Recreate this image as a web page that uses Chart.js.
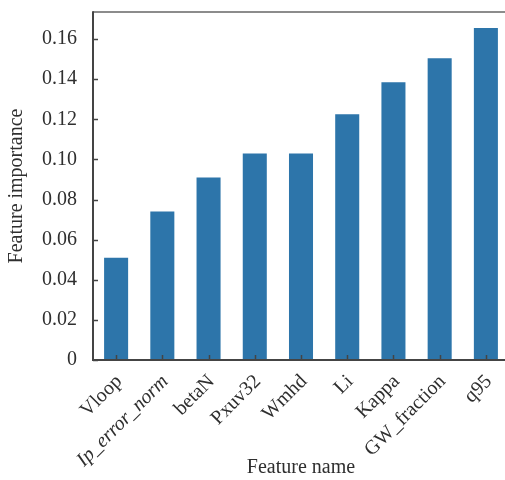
<!DOCTYPE html>
<html>
<head>
<meta charset="utf-8">
<script src="https://cdn.jsdelivr.net/npm/chart.js@4/dist/chart.umd.min.js"></script>
<style>
  html, body { margin: 0; padding: 0; background: #fff; overflow: hidden; }
  #wrap { position: relative; width: 512px; height: 480px; }
</style>
</head>
<body>
<div id="wrap"><canvas id="c"></canvas></div>
<script>
// Feature names (x categories) and their importance scores
const features = ['Vloop', 'Ip_error_norm', 'betaN', 'Pxuv32', 'Wmhd', 'Li', 'Kappa', 'GW_fraction', 'q95'];
const importance = [0.051, 0.074, 0.091, 0.103, 0.103, 0.1225, 0.1385, 0.1505, 0.1655];
const yTicks = [0, 0.02, 0.04, 0.06, 0.08, 0.10, 0.12, 0.14, 0.16];
const italicLabels = ['Ip_error_norm'];

const FONT = 'Liberation Serif, Times New Roman, serif';
const TEXT = '#2f2f2f';
const AXIS = '#444444';

// Axis frame with inward tick marks
const frame = {
  id: 'frame',
  afterDatasetsDraw(chart) {
    const { ctx, chartArea: a, scales } = chart;
    ctx.save();
    ctx.lineCap = 'butt';
    // top border
    ctx.strokeStyle = '#666666';
    ctx.lineWidth = 1.5;
    ctx.beginPath();
    ctx.moveTo(a.left, a.top);
    ctx.lineTo(a.right, a.top);
    ctx.stroke();
    // left and bottom axes
    ctx.strokeStyle = AXIS;
    ctx.lineWidth = 2;
    ctx.beginPath();
    ctx.moveTo(a.left, a.top - 0.75);
    ctx.lineTo(a.left, a.bottom);
    ctx.lineTo(a.right, a.bottom);
    ctx.stroke();
    // inward ticks
    ctx.lineWidth = 1.5;
    ctx.beginPath();
    scales.y.ticks.forEach(t => {
      const y = Math.round(scales.y.getPixelForValue(t.value)) + 0.5;
      ctx.moveTo(a.left, y);
      ctx.lineTo(a.left + 5, y);
    });
    scales.x.ticks.forEach((t, i) => {
      const x = Math.round(scales.x.getPixelForTick(i)) + 0.5;
      ctx.moveTo(x, a.bottom);
      ctx.lineTo(x, a.bottom - 5);
    });
    ctx.stroke();
    ctx.restore();
  }
};

new Chart(document.getElementById('c'), {
  type: 'bar',
  data: {
    labels: features,
    datasets: [{
      data: importance,
      backgroundColor: '#2d75aa',
      borderWidth: 0,
      barPercentage: 0.52,
      categoryPercentage: 1.0
    }]
  },
  options: {
    responsive: true,
    maintainAspectRatio: false,
    animation: false,
    devicePixelRatio: 1,
    layout: { padding: { top: 12, right: 3, bottom: 0, left: 0 } },
    plugins: { legend: { display: false }, tooltip: { enabled: false } },
    scales: {
      x: {
        grid: { display: false, drawTicks: false },
        border: { display: false },
        ticks: {
          color: TEXT,
          padding: 10,
          labelOffset: 3,
          maxRotation: 45,
          minRotation: 45,
          autoSkip: false,
          font: (c) => ({
            family: FONT,
            size: 20,
            style: italicLabels.includes(features[c.index]) ? 'italic' : 'normal'
          })
        },
        title: {
          display: true,
          text: 'Feature name',
          color: TEXT,
          font: { family: FONT, size: 20 },
          padding: { top: 0, bottom: 0 }
        },
        afterFit(s) { s.height = 120; s.paddingLeft = 0; s.paddingRight = 0; }
      },
      y: {
        min: 0,
        max: 0.1735,
        grid: { display: false, drawTicks: false },
        border: { display: false },
        afterBuildTicks(s) { s.ticks = yTicks.map(v => ({ value: v })); },
        ticks: {
          color: TEXT,
          padding: 16,
          font: { family: FONT, size: 20 },
          callback: (v) => (v === 0 ? '0' : v.toFixed(2))
        },
        title: {
          display: true,
          text: 'Feature importance',
          color: TEXT,
          font: { family: FONT, size: 20 },
          padding: { top: 5, bottom: 0 }
        },
        afterFit(s) { s.width = 93; s.paddingTop = 0; s.paddingBottom = 0; }
      }
    }
  },
  plugins: [frame]
});
</script>
</body>
</html>
